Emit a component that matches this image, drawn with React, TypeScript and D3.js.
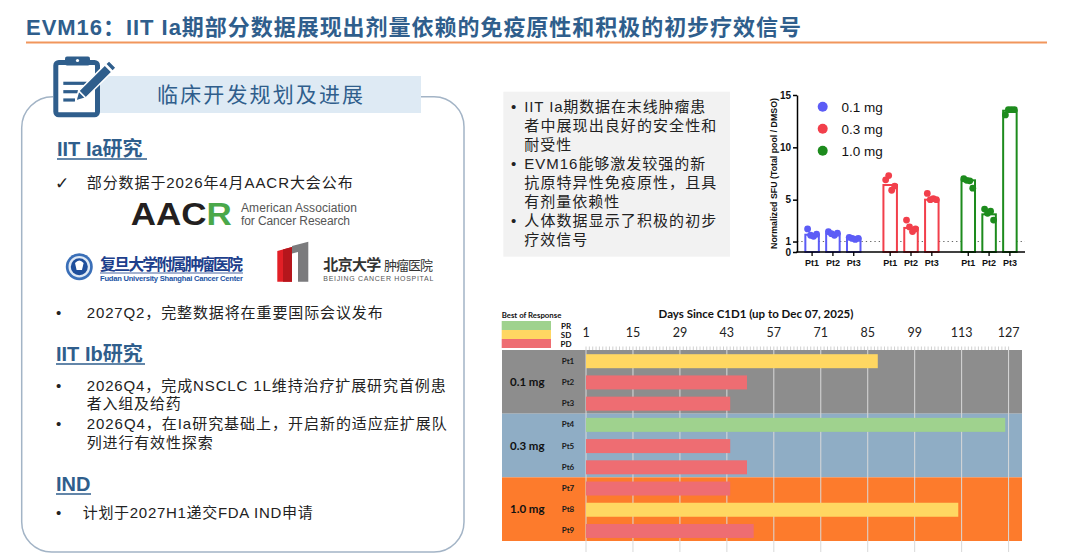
import React, { useEffect, useRef } from "react";
import * as d3 from "d3";

// ---- immunogenicity panel (normalized SFU) ----
const doseGroups = ["0.1 mg", "0.3 mg", "1.0 mg"];
const sfuPatients = ["Pt1", "Pt2", "Pt3"];
const sfuMean = [
  [1.65, 1.75, 1.3],
  [6.4, 2.3, 5.0],
  [6.85, 3.6, 13.5],
];
const sfuReplicates = [
  [[2.2, 1.6, 1.5, 1.7], [1.95, 1.75, 1.6, 1.8], [1.4, 1.3, 1.2, 1.3]],
  [[6.9, 7.3, 5.9, 6.3], [3.05, 2.4, 1.95, 2.2], [5.6, 5.0, 5.1, 5.0]],
  [[7.0, 6.85, 6.8, 6.1], [4.1, 3.7, 3.9, 3.05], [13.1, 13.6, 13.6, 13.6]],
];
const doseColors = ["#5c5cf6", "#f23f4b", "#1d8b1d"];
const sfuTicks = [0, 1, 5, 10, 15];

// ---- swimmer plot ----
const swPatients = ["Pt1", "Pt2", "Pt3", "Pt4", "Pt5", "Pt6", "Pt7", "Pt8", "Pt9"];
const swDose = ["0.1 mg", "0.1 mg", "0.1 mg", "0.3 mg", "0.3 mg", "0.3 mg", "1.0 mg", "1.0 mg", "1.0 mg"];
const swDays = [88, 49, 44, 126, 44, 49, 44, 112, 51];
const swResponse = ["SD", "PD", "PD", "PR", "PD", "PD", "PD", "SD", "PD"];
const responseTypes = ["PR", "SD", "PD"];
const responseColors = ["#9fd28e", "#ffd762", "#ee6d72"];
const doseBandColors = ["#8d8d8d", "#8fadc5", "#fd7b2c"];
const dayTicks = [1, 15, 29, 43, 57, 71, 85, 99, 113, 127];

const BLUE = "#2f5e8c";
const CN = "'Liberation Sans', Arial, 'Noto Sans CJK SC', sans-serif";
const SW = "Lato, 'Open Sans', sans-serif";
const AR = "'Liberation Sans', Arial, sans-serif";

type TOpts = {
  size: number;
  weight?: string;
  fill?: string;
  anchor?: string;
  len?: number;
  family?: string;
  spacing?: number;
};

function addText(parent: any, s: string, x: number, y: number, o: TOpts) {
  const t = parent
    .append("text")
    .attr("x", x)
    .attr("y", y)
    .attr("font-size", o.size)
    .attr("font-family", o.family ?? CN)
    .attr("font-weight", o.weight ?? "normal")
    .attr("fill", o.fill ?? "#222")
    .attr("text-anchor", o.anchor ?? "start")
    .text(s);
  if (o.spacing) t.attr("letter-spacing", o.spacing);
  if (o.len) t.attr("textLength", o.len).attr("lengthAdjust", "spacing");
  return t;
}

const App: React.FC = () => {
  const svgRef = useRef<SVGSVGElement | null>(null);

  useEffect(() => {
    const svgElement = svgRef.current;
    if (!svgElement) return;
    const svg = d3.select(svgElement);
    svg.selectAll("*").remove();
    svg.attr("width", 1080).attr("height", 556).style("background-color", "white");

    // ---------- title ----------
    addText(svg, "EVM16：IIT Ia期部分数据展现出剂量依赖的免疫原性和积极的初步疗效信号", 26, 35, {
      size: 22, weight: "bold", fill: BLUE, len: 775,
    });
    svg.append("line").attr("x1", 26).attr("x2", 1047).attr("y1", 42.5).attr("y2", 42.5)
      .attr("stroke", "#f1965c").attr("stroke-width", 2);

    // ---------- left panel ----------
    svg.append("path")
      .attr("d", "M 53 96.7 A 31 31 0 0 0 21.7 127.7 L 21.7 522 A 30 30 0 0 0 51.7 552 L 434 552 A 30 30 0 0 0 464 522 L 464 126.7 A 30 30 0 0 0 434 96.7 L 415 96.7")
      .attr("fill", "none").attr("stroke", "#a3b4c6").attr("stroke-width", 1.5);

    svg.append("rect").attr("x", 97).attr("y", 76).attr("width", 324).attr("height", 37).attr("fill", "#deeaf4");
    addText(svg, "临床开发规划及进展", 157, 102, { size: 21, fill: BLUE, len: 206 });

    // clipboard icon
    const icon = svg.append("g");
    icon.append("rect").attr("x", 55.8).attr("y", 62.5).attr("width", 41.7).attr("height", 52.3).attr("rx", 3)
      .attr("fill", "#fff").attr("stroke", BLUE).attr("stroke-width", 5);
    icon.append("rect").attr("x", 65).attr("y", 56.5).attr("width", 25).attr("height", 9).attr("rx", 2).attr("fill", BLUE);
    icon.append("circle").attr("cx", 77.5).attr("cy", 60.5).attr("r", 1.6).attr("fill", "#fff");
    [[83.3, 86.7], [91.7, 83], [100, 75]].forEach(([y, x2]) =>
      icon.append("line").attr("x1", 63.3).attr("x2", x2).attr("y1", y).attr("y2", y)
        .attr("stroke", BLUE).attr("stroke-width", 3.2));
    const pen = icon.append("g").attr("transform", "translate(94.2,82.5) rotate(-45)");
    pen.append("rect").attr("x", -17).attr("y", -5).attr("width", 37).attr("height", 10)
      .attr("fill", BLUE).attr("stroke", "#fff").attr("stroke-width", 1.5);
    pen.append("rect").attr("x", 21).attr("y", -5).attr("width", 5).attr("height", 10)
      .attr("fill", BLUE).attr("stroke", "#fff").attr("stroke-width", 1.5);
    pen.append("path").attr("d", "M -17 -5 L -26 0 L -17 5 Z")
      .attr("fill", BLUE).attr("stroke", "#fff").attr("stroke-width", 1.5);

    const heading = (s: string, x: number, y: number, w: number) => {
      addText(svg, s, x, y, { size: 20, weight: "bold", fill: BLUE });
      svg.append("line").attr("x1", x).attr("x2", x + w).attr("y1", y + 3).attr("y2", y + 3)
        .attr("stroke", BLUE).attr("stroke-width", 1.3);
    };
    heading("IIT Ia研究", 57, 156, 90);
    addText(svg, "✓", 55, 189, { size: 17, family: "'DejaVu Sans', sans-serif" });
    addText(svg, "部分数据于2026年4月AACR大会公布", 86.7, 188.3, { size: 15, len: 266 });

    // AACR logo
    const aacr = svg.append("text").attr("x", 130.7).attr("y", 225).attr("font-size", 31)
      .attr("font-family", AR).attr("font-weight", "bold")
      .attr("textLength", 101).attr("lengthAdjust", "spacingAndGlyphs");
    aacr.append("tspan").attr("fill", "#231f20").text("AAC");
    aacr.append("tspan").attr("fill", "#4aa84a").text("R");
    addText(svg, "American Association", 241, 211.5, { size: 12, fill: "#555", family: AR, len: 116 });
    addText(svg, "for Cancer Research", 241, 225, { size: 12, fill: "#555", family: AR, len: 109 });

    // Fudan logo
    svg.append("circle").attr("cx", 79.3).attr("cy", 266.7).attr("r", 13.5).attr("fill", "#3a6fb8");
    svg.append("circle").attr("cx", 79.3).attr("cy", 266.7).attr("r", 10.8).attr("fill", "#dfe9f5");
    svg.append("circle").attr("cx", 79.3).attr("cy", 266.7).attr("r", 8.5).attr("fill", "#1f4f9c");
    svg.append("path").attr("d", "M 75 263 Q 79.3 258 83.6 263 L 82 270 L 76.6 270 Z").attr("fill", "#fff");
    addText(svg, "复旦大学附属肿瘤医院", 100, 270, { size: 16, weight: "bold", fill: "#1d3f8c", len: 143 });
    svg.append("line").attr("x1", 100).attr("x2", 243).attr("y1", 273).attr("y2", 273).attr("stroke", "#1d3f8c").attr("stroke-width", 0.8);
    addText(svg, "Fudan University Shanghai Cancer Center", 100, 281, { size: 7.6, weight: "bold", fill: "#2153a3", family: AR, len: 143 });

    // Beijing logo
    svg.append("path").attr("d", "M 277.3 251 L 292 247 L 292 281.7 L 277.3 281.7 Z").attr("fill", "#e21f26");
    svg.append("path").attr("d", "M 283 249.5 L 292 247 L 292 281.7 L 283 281.7 Z").attr("fill", "#b5161c");
    svg.append("path").attr("d", "M 292 246 L 308.3 241.7 L 308.3 281.7 L 298 281.7 L 298 252 L 292 253.5 Z").attr("fill", "#7b7b7d");
    addText(svg, "北京大学", 323.3, 270, { size: 15, weight: "bold", fill: "#333", len: 58 });
    addText(svg, "肿瘤医院", 384, 270, { size: 13, fill: "#333", len: 49 });
    addText(svg, "BEIJING CANCER HOSPITAL", 323.3, 280.5, { size: 7, fill: "#555", family: AR, len: 110 });

    addText(svg, "•", 56, 318.3, { size: 15, family: AR });
    addText(svg, "2027Q2，完整数据将在重要国际会议发布", 86.7, 318.3, { size: 15, len: 296 });

    heading("IIT Ib研究", 56, 361, 89);
    addText(svg, "•", 56, 391, { size: 15, family: AR });
    addText(svg, "2026Q4，完成NSCLC 1L维持治疗扩展研究首例患", 86.7, 391, { size: 15, len: 359 });
    addText(svg, "者入组及给药", 86.7, 409.3, { size: 15, len: 94 });
    addText(svg, "•", 56, 429.3, { size: 15, family: AR });
    addText(svg, "2026Q4，在Ia研究基础上，开启新的适应症扩展队", 86.7, 429.3, { size: 15, len: 360 });
    addText(svg, "列进行有效性探索", 86.7, 447.7, { size: 15, len: 126 });

    heading("IND", 56, 491, 35);
    addText(svg, "•", 56, 518.3, { size: 15, family: AR });
    addText(svg, "计划于2027H1递交FDA IND申请", 82.7, 518.3, { size: 15, len: 230 });

    // ---------- key points box ----------
    svg.append("rect").attr("x", 503.3).attr("y", 91.7).attr("width", 226.7).attr("height", 165).attr("fill", "#f2f2f2");
    const kp: [string, number | null, boolean][] = [
      ["IIT Ia期数据在末线肿瘤患", 181, true],
      ["者中展现出良好的安全性和", 192, false],
      ["耐受性", null, false],
      ["EVM16能够激发较强的新", 181, true],
      ["抗原特异性免疫原性，且具", 192, false],
      ["有剂量依赖性", null, false],
      ["人体数据显示了积极的初步", 192, true],
      ["疗效信号", null, false],
    ];
    kp.forEach(([s, len, bullet], i) => {
      const y = 112 + i * 19;
      if (bullet) addText(svg, "•", 511, y, { size: 15, family: AR });
      addText(svg, s, 524.3, y, { size: 15, spacing: len ? 0 : 1, len: len ?? undefined });
    });

    // ---------- SFU bar chart ----------
    const bx0 = d3.scaleBand<string>().domain(doseGroups).range([797, 1025]).paddingInner(0.2).paddingOuter(0.06);
    const bx1 = d3.scalePoint<string>().domain(sfuPatients).range([0, bx0.bandwidth()]).padding(0.5);
    const by = d3.scaleLinear().domain([0, 15]).range([252, 95]);
    const barW = 13.5;
    const bc = svg.append("g");

    bc.append("line").attr("x1", 797).attr("x2", 1025).attr("y1", by(1)).attr("y2", by(1))
      .attr("stroke", "#666").attr("stroke-width", 1.1).attr("stroke-dasharray", "1.3,3");

    doseGroups.forEach((g, gi) => {
      sfuPatients.forEach((p, pi) => {
        const cx = bx0(g)! + bx1(p)!;
        const v = sfuMean[gi][pi];
        bc.append("rect").attr("x", cx - barW / 2).attr("y", by(v)).attr("width", barW).attr("height", by(0) - by(v))
          .attr("fill", "#fff").attr("stroke", doseColors[gi]).attr("stroke-width", 2);
        bc.selectAll(null)
          .data(sfuReplicates[gi][pi])
          .enter()
          .append("circle")
          .attr("cx", (_, i) => cx + (i - 1.5) * 3)
          .attr("cy", (d) => by(d))
          .attr("r", 3.4)
          .attr("fill", doseColors[gi]);
        bc.append("line").attr("x1", cx).attr("x2", cx).attr("y1", by(0)).attr("y2", by(0) + 4)
          .attr("stroke", "#000").attr("stroke-width", 1.3);
        addText(bc, p, cx, 265.7, { size: 9, weight: "bold", family: AR, anchor: "middle", fill: "#111" });
      });
    });

    bc.append("g")
      .attr("transform", "translate(797,0)")
      .call(d3.axisLeft(by).tickValues(sfuTicks).tickSize(4).tickSizeOuter(0).tickPadding(2))
      .call((g) => g.selectAll(".domain, .tick line").attr("stroke", "#000").attr("stroke-width", 1.5))
      .call((g) => g.selectAll(".tick text").attr("fill", "#111").attr("font-size", 10)
        .attr("font-weight", "bold").attr("font-family", AR));
    bc.append("line").attr("x1", 796.25).attr("x2", 1025).attr("y1", by(0)).attr("y2", by(0))
      .attr("stroke", "#000").attr("stroke-width", 1.5);

    bc.append("text")
      .attr("transform", `translate(776.5,${(by(0) + by(15)) / 2}) rotate(-90)`)
      .attr("text-anchor", "middle").attr("font-size", 8.8).attr("font-weight", "bold")
      .attr("font-family", AR).attr("fill", "#111")
      .text("Normalized SFU (Total pool / DMSO)");

    doseGroups.forEach((g, gi) => {
      const ly = 106.7 + gi * 22;
      bc.append("circle").attr("cx", 822.7).attr("cy", ly).attr("r", 5).attr("fill", doseColors[gi]);
      addText(bc, g, 841.5, ly + 4.8, { size: 13.5, family: AR, fill: "#111" });
    });

    // ---------- swimmer plot ----------
    const sx = d3.scaleLinear().domain([1, 131]).range([586, 1022]);
    const sy = d3.scaleBand<string>().domain(swPatients).range([350, 541]);
    const bw = sy.bandwidth();
    const sp = svg.append("g");

    doseGroups.forEach((g, gi) => {
      const rows = swPatients.filter((_, i) => swDose[i] === g);
      const y0 = sy(rows[0])!;
      const y1 = sy(rows[rows.length - 1])! + bw;
      sp.append("rect").attr("x", 502).attr("y", y0).attr("width", sx(131) - 502).attr("height", y1 - y0)
        .attr("fill", doseBandColors[gi]);
      addText(sp, g, 510, (y0 + y1) / 2 + 4, { size: 11.5, weight: "bold", family: SW, fill: "#111" });
    });

    // daily minor ticks along the top
    sp.selectAll(null)
      .data(d3.range(1, 128))
      .enter()
      .append("line")
      .attr("x1", (d) => sx(d)).attr("x2", (d) => sx(d))
      .attr("y1", 346.5).attr("y2", 350)
      .attr("stroke", "#c4c4c4").attr("stroke-width", 0.8);

    sp.selectAll(null)
      .data(dayTicks)
      .enter()
      .append("line")
      .attr("x1", (d) => sx(d)).attr("x2", (d) => sx(d))
      .attr("y1", 350).attr("y2", 552)
      .attr("stroke", "#d9d9d9").attr("stroke-width", 1);

    swPatients.forEach((p, i) => {
      const ci = responseTypes.indexOf(swResponse[i]);
      sp.append("rect").attr("x", sx(1)).attr("y", sy(p)! + 4.2).attr("width", sx(swDays[i]) - sx(1))
        .attr("height", 14).attr("fill", responseColors[ci]);
      addText(sp, p, 561.7, sy(p)! + bw / 2 + 3, { size: 8, weight: "bold", family: SW, fill: "#1a1a1a" });
    });

    dayTicks.forEach((d) =>
      addText(sp, String(d), sx(d), 336.7, { size: 12.5, family: SW, anchor: "middle", fill: "#222" }));
    addText(sp, "Days Since C1D1 (up to Dec 07, 2025)", 756, 318.3, {
      size: 11.5, weight: "bold", family: SW, anchor: "middle", fill: "#111",
    });

    addText(sp, "Best of Response", 501.7, 317.7, { size: 7.8, weight: "bold", family: SW, fill: "#111" });
    responseTypes.forEach((r, i) => {
      const y = 321 + i * 9;
      sp.append("rect").attr("x", 501.7).attr("y", y).attr("width", 49.3).attr("height", 9).attr("fill", responseColors[i]);
      addText(sp, r, 566, y + 7.5, { size: 8, weight: "bold", family: SW, anchor: "middle", fill: "#111" });
    });
  }, []);

  return (
    <div style={{ position: "absolute", left: 0, top: 0 }}>
      <svg ref={svgRef}></svg>
    </div>
  );
};

export default App;
